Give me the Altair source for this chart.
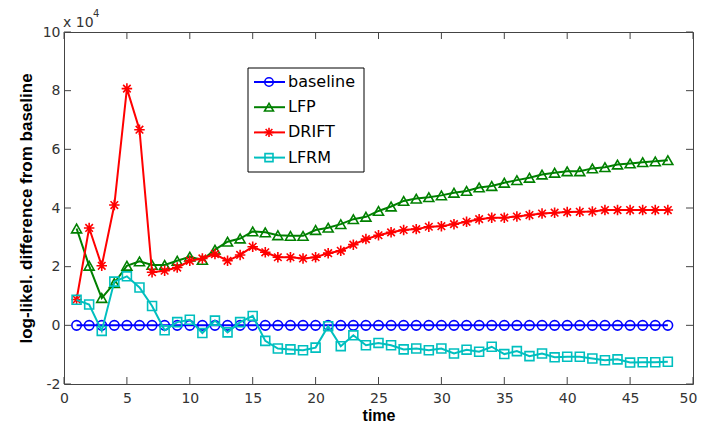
import altair as alt
import pandas as pd

# ---- data (values in units of 10^4) ----
t = list(range(1, 49))
baseline = [0, 0, 0, 0, 0, 0, 0, 0, 0, 0, 0, 0, 0, 0, 0, 0,
            0, 0, 0, 0, 0, 0, 0, 0, 0, 0, 0, 0, 0, 0, 0, 0,
            0, 0, 0, 0, 0, 0, 0, 0, 0, 0, 0, 0, 0, 0, 0, 0]
lfp = [3.30, 2.03, 0.93, 1.44, 2.03, 2.18, 2.06, 2.06, 2.20, 2.34,
       2.23, 2.58, 2.85, 2.96, 3.20, 3.17, 3.07, 3.05, 3.05, 3.25,
       3.33, 3.45, 3.62, 3.70, 3.90, 4.05, 4.24, 4.32, 4.37, 4.43,
       4.52, 4.58, 4.70, 4.75, 4.86, 4.95, 5.03, 5.14, 5.20, 5.25,
       5.25, 5.35, 5.39, 5.48, 5.52, 5.56, 5.59, 5.63]
drift = [0.88, 3.32, 2.03, 4.10, 8.07, 6.67, 1.81, 1.86, 1.97, 2.20,
         2.28, 2.43, 2.20, 2.40, 2.68, 2.49, 2.32, 2.32, 2.28, 2.32,
         2.46, 2.54, 2.75, 2.94, 3.07, 3.17, 3.25, 3.28, 3.36, 3.38,
         3.45, 3.53, 3.62, 3.67, 3.67, 3.71, 3.76, 3.81, 3.84, 3.86,
         3.87, 3.88, 3.93, 3.93, 3.93, 3.93, 3.93, 3.93]
lfrm = [0.87, 0.71, -0.19, 1.49, 1.67, 1.29, 0.66, -0.17, 0.11, 0.19,
        -0.26, 0.16, -0.24, 0.11, 0.32, -0.53, -0.79, -0.82, -0.85, -0.76,
        -0.03, -0.71, -0.34, -0.68, -0.60, -0.68, -0.82, -0.79, -0.85, -0.79,
        -0.96, -0.83, -0.90, -0.73, -0.98, -0.88, -1.05, -0.96, -1.09, -1.07,
        -1.07, -1.13, -1.19, -1.16, -1.27, -1.26, -1.26, -1.24]

series_names = ["baseline", "LFP", "DRIFT", "LFRM"]
x_ticks = [0, 5, 10, 15, 20, 25, 30, 35, 40, 45, 50]
y_ticks = [-2, 0, 2, 4, 6, 8, 10]

# ---- styles ----
colors = ["#0000FF", "#008000", "#FF0000", "#00BFBF"]
STAR = "M-1,0L1,0M0,-1L0,1M-0.72,-0.72L0.72,0.72M-0.72,0.72L0.72,-0.72"
shapes = ["circle", "triangle-up", STAR, "square"]
sizes = [90, 100, 110, 80]

W, H = 629, 352
AX = "#444444"
LBL_FONT = "DejaVu Sans"
TTL_FONT = "Liberation Sans"

rows = []
for name, vals in zip(series_names, [baseline, lfp, drift, lfrm]):
    for ti, v in zip(t, vals):
        rows.append({"series": name, "t": ti, "v": v})
df = pd.DataFrame(rows)

xscale = alt.Scale(domain=[0, 50], nice=False, zero=False)
yscale = alt.Scale(domain=[-2, 10], nice=False, zero=False)

x_axis = alt.Axis(values=x_ticks, title="time", grid=False, domain=False,
                  ticks=False, tickSize=0, labelPadding=7, labelFlush=False,
                  labelOffset={"condition": {"test": "datum.value >= 50", "value": -5},
                               "value": 0},
                  labelFont=LBL_FONT, labelFontSize=14, labelColor="#333333",
                  titleFont=TTL_FONT, titleFontSize=16, titleFontWeight="bold",
                  titleColor="#000000", titleY=36, titleBaseline="alphabetic")
y_axis = alt.Axis(values=y_ticks, title="log-likel. difference from baseline",
                  grid=False, domain=False, ticks=False, tickSize=0,
                  labelPadding=4, labelFlush=False,
                  labelExpr="'' + datum.value",
                  labelFont=LBL_FONT, labelFontSize=14, labelColor="#333333",
                  titleFont=TTL_FONT, titleFontSize=17, titleFontWeight="bold",
                  titleColor="#000000", titleAngle=-90, titleX=-33, titleY=H / 2,
                  titleAlign="center", titleBaseline="alphabetic")


def X(field):
    return alt.X(field, scale=xscale, axis=x_axis)


def Y(field):
    return alt.Y(field, scale=yscale, axis=y_axis)


layers = []
for i, name in enumerate(series_names):
    base = alt.Chart(df).transform_filter(alt.datum.series == name)
    line = base.mark_line(color=colors[i], strokeWidth=2).encode(
        x=X("t:Q"), y=Y("v:Q"))
    pts = base.mark_point(shape=shapes[i], size=sizes[i], filled=False,
                          color=colors[i], strokeWidth=1.6, opacity=1).encode(
        x=X("t:Q"), y=Y("v:Q"))
    layers += [line, pts]

# inward ticks on all four sides (MATLAB box style)
xt = alt.Chart(pd.DataFrame({"t": x_ticks}))
yt = alt.Chart(pd.DataFrame({"v": y_ticks}))
tick_len = 7
layers.append(xt.mark_rule(color=AX, strokeWidth=1).encode(
    x=X("t:Q"), y=alt.value(H), y2=alt.value(H - tick_len)))
layers.append(xt.mark_rule(color=AX, strokeWidth=1).encode(
    x=X("t:Q"), y=alt.value(0), y2=alt.value(tick_len)))
layers.append(yt.mark_rule(color=AX, strokeWidth=1).encode(
    y=Y("v:Q"), x=alt.value(0), x2=alt.value(tick_len)))
layers.append(yt.mark_rule(color=AX, strokeWidth=1).encode(
    y=Y("v:Q"), x=alt.value(W), x2=alt.value(W - tick_len)))

# exponent label "x 10^4"
one = alt.Chart(pd.DataFrame({"a": [0]}))
layers.append(one.mark_text(text="x 10", align="left", baseline="alphabetic",
                            font=LBL_FONT, fontSize=14, color="#333333").encode(
    x=alt.value(-1), y=alt.value(-5)))
layers.append(one.mark_text(text="4", align="left", baseline="alphabetic",
                            font=LBL_FONT, fontSize=10, color="#333333").encode(
    x=alt.value(29), y=alt.value(-15)))

# legend box
LX0, LX1, LY0, LY1 = 184, 300, 36, 140
layers.append(one.mark_rect(fill="white", stroke="#000000", strokeWidth=1).encode(
    x=alt.value(LX0), x2=alt.value(LX1), y=alt.value(LY0), y2=alt.value(LY1)))
for i, name in enumerate(series_names):
    yc = 50 + i * 25.2
    layers.append(one.mark_rule(color=colors[i], strokeWidth=2).encode(
        x=alt.value(190), x2=alt.value(221), y=alt.value(yc)))
    layers.append(one.mark_point(shape=shapes[i], size=sizes[i] * 0.8, filled=False,
                                 color=colors[i], strokeWidth=1.6, opacity=1).encode(
        x=alt.value(205), y=alt.value(yc)))
    layers.append(one.mark_text(text=name, align="left", baseline="middle",
                                font=LBL_FONT, fontSize=16, color="#000000").encode(
        x=alt.value(224), y=alt.value(yc)))

chart = alt.layer(*layers).properties(
    width=W, height=H,
    autosize=alt.AutoSizeParams(type="none"),
    padding={"left": 56, "top": 24, "right": 5, "bottom": 40},
    background="white",
).configure_view(stroke=AX, strokeWidth=1)

chart.save("out.html", embed_options={"renderer": "svg", "actions": False})
